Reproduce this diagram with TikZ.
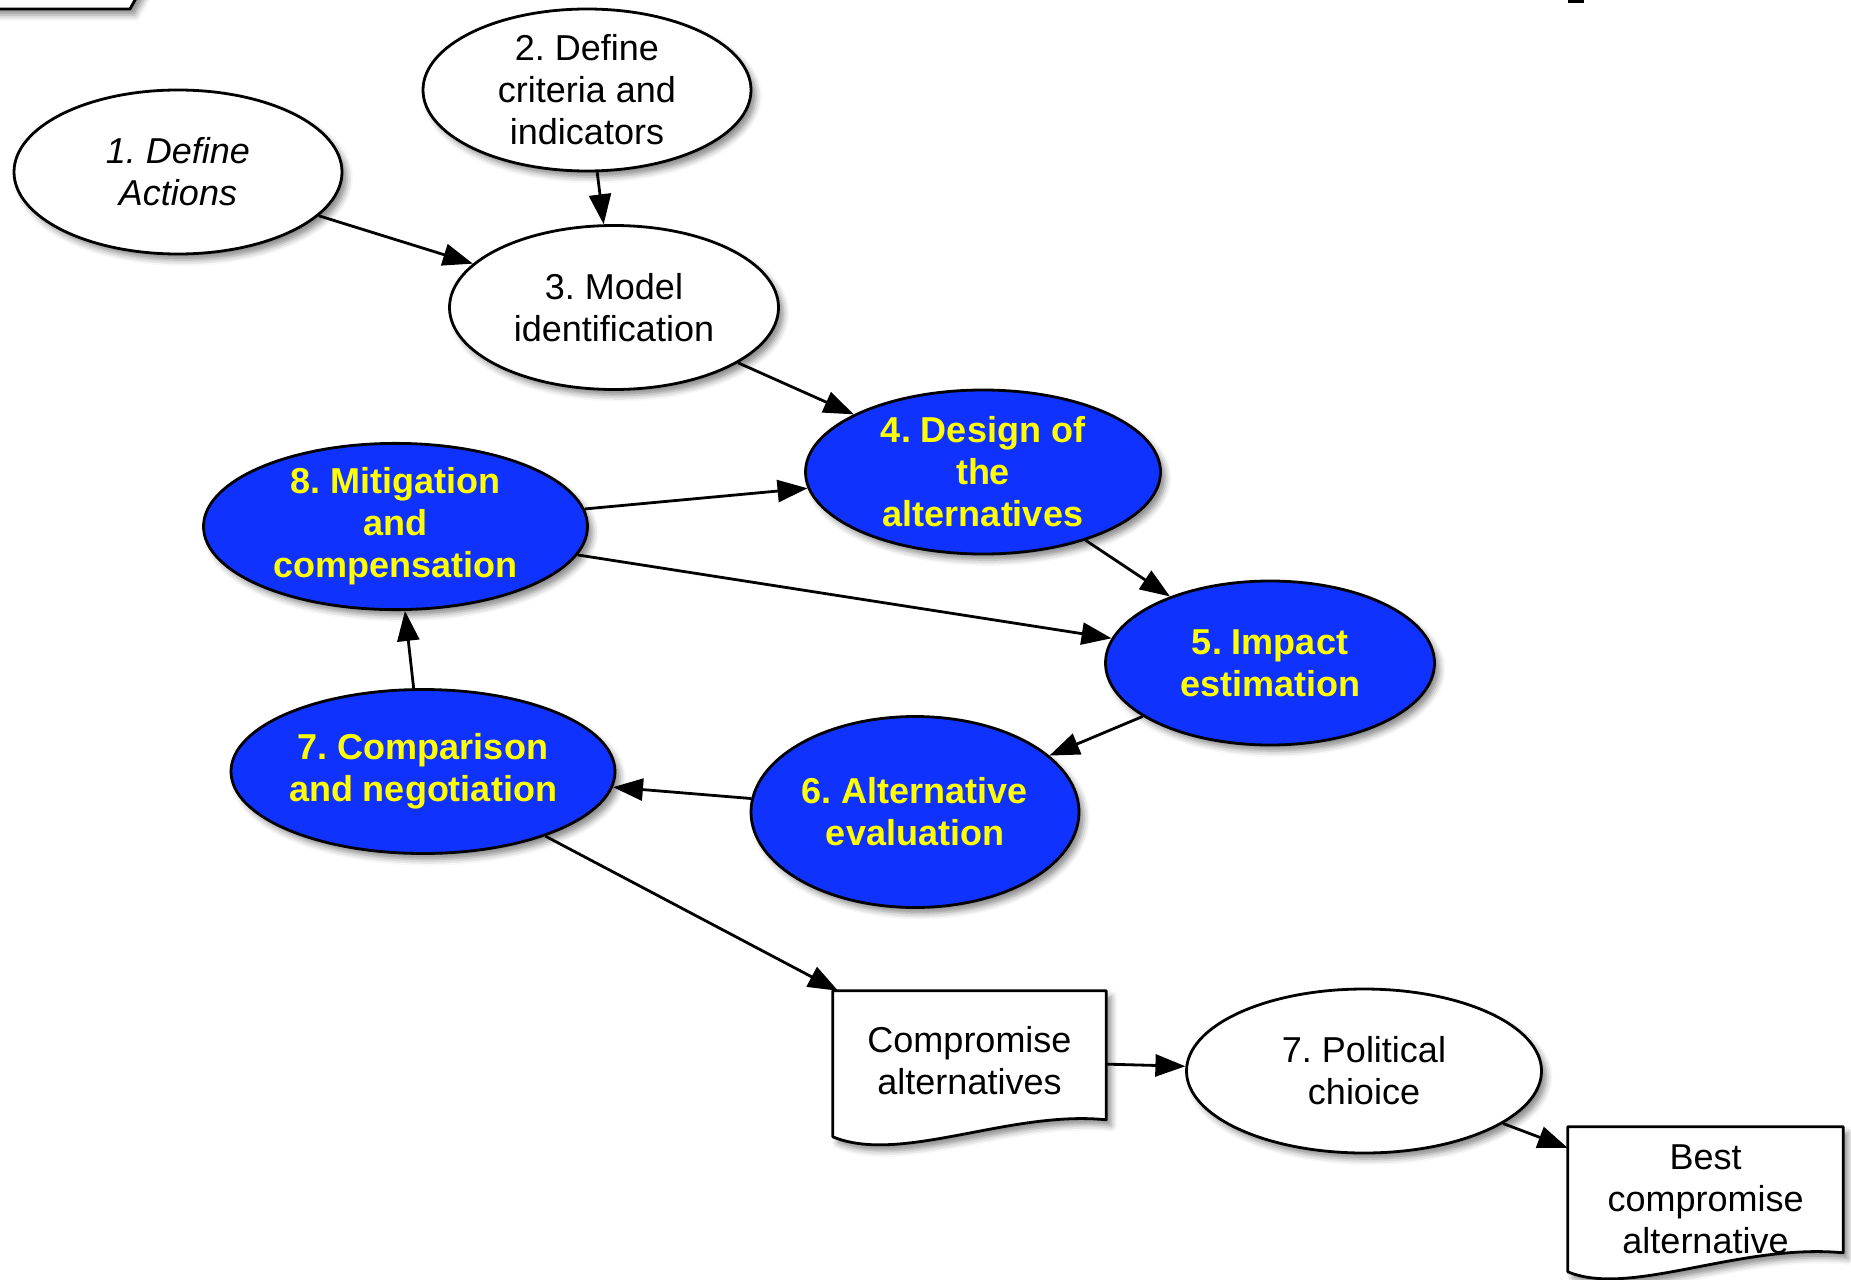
\documentclass[tikz,border=0pt]{standalone}
\usepackage{fontspec}
\setmainfont{Liberation Sans}
\frenchspacing
\usetikzlibrary{shapes.geometric,arrows.meta,calc,shadows.blur}
\definecolor{nodeblue}{RGB}{16,50,255}
\definecolor{nodeyellow}{RGB}{255,255,0}
\pgfdeclarelayer{bg}
\pgfsetlayers{bg,main}
\begin{document}
\begin{tikzpicture}[x=1pt,y=-1pt,
 shad/.style={blur shadow={shadow xshift=5pt,shadow yshift=-6pt,shadow blur radius=6pt,shadow opacity=45}},
 whiteell/.style={ellipse,draw=black,line width=2.8pt,fill=white,shad,inner sep=0pt,align=center,font=\fontsize{36}{42}\selectfont\frenchspacing},
 blueell/.style={whiteell,fill=nodeblue,text=nodeyellow,font=\fontsize{36}{42}\selectfont\bfseries\frenchspacing},
 docbox/.style={rectangle,inner sep=0pt,align=center,font=\fontsize{36}{42}\selectfont},
 docline/.style={draw=black,line width=2.8pt,fill=white,shad,line join=round},
 conn/.style={draw=black,line width=2.8pt,-{Triangle[length=30pt,width=22pt,fill=black]}}
]
\useasboundingbox (0,0) rectangle (1851,1279);

% cut-off fragments at the top edge
\draw[docline] (-20,-45) -- (-20,9) -- (130,9) -- (160,-45);
\fill[black] (1568,-5) rectangle (1584,3);

% ellipses
\node[whiteell,minimum width=328,minimum height=164,font=\fontsize{36}{42}\selectfont\itshape\frenchspacing] (n1) at (178,172) {1. Define\\Actions};
\node[whiteell,minimum width=328,minimum height=162] (n2) at (587,90) {2. Define\\criteria and\\indicators};
\node[whiteell,minimum width=329,minimum height=164] (n3) at (614,307.5) {3. Model\\identification};
\node[blueell,minimum width=355,minimum height=164] (n4) at (983,472) {4. Design of\\the\\alternatives};
\node[blueell,minimum width=329,minimum height=164] (n5) at (1270,663) {5. Impact\\estimation};
\node[blueell,minimum width=328,minimum height=191] (n6) at (915,812) {6. Alternative\\evaluation};
\node[blueell,minimum width=384,minimum height=164] (n7) at (423,771.5) {7. Comparison\\and negotiation};
\node[blueell,minimum width=384,minimum height=165] (n8) at (395.5,526.5) {8. Mitigation\\and\\compensation};
\node[whiteell,minimum width=355,minimum height=164] (pol) at (1364,1071) {7. Political\\chioice};

% document shapes
\node[docbox,minimum width=273,minimum height=139] (cmp) at (969.5,1060.5) {Compromise\\alternatives};
\node[docbox,minimum width=275,minimum height=145] (best) at (1705.5,1199.5) {Best\\compromise\\alternative};
\begin{pgfonlayer}{bg}
\draw[docline] (cmp.north west) -- (cmp.north east) -- ($(cmp.north east)+(0,129)$)
  .. controls ($(cmp.north east)+(-96,119)$) and ($(cmp.north east)+(-206,174)$) .. ($(cmp.north west)+(0,146)$) -- cycle;
\draw[docline] (best.north west) -- (best.north east) -- ($(best.north east)+(0,126)$)
  .. controls ($(best.north east)+(-103,116)$) and ($(best.north east)+(-213,171)$) .. ($(best.north west)+(0,145)$) -- cycle;
\end{pgfonlayer}

% connectors
\draw[conn] (n1) -- (n3);
\draw[conn] (n2) -- (n3);
\draw[conn] (n3) -- (n4);
\draw[conn] (n8) -- (n4);
\draw[conn] (n8) -- (n5);
\draw[conn] (n4) -- (n5);
\draw[conn] (n5) -- (n6);
\draw[conn] (n6) -- (n7);
\draw[conn] (n7) -- (n8);
\draw[conn] (n7) -- (cmp);
\draw[conn] (cmp) -- (pol);
\draw[conn] (pol) -- (best);
\end{tikzpicture}
\end{document}
